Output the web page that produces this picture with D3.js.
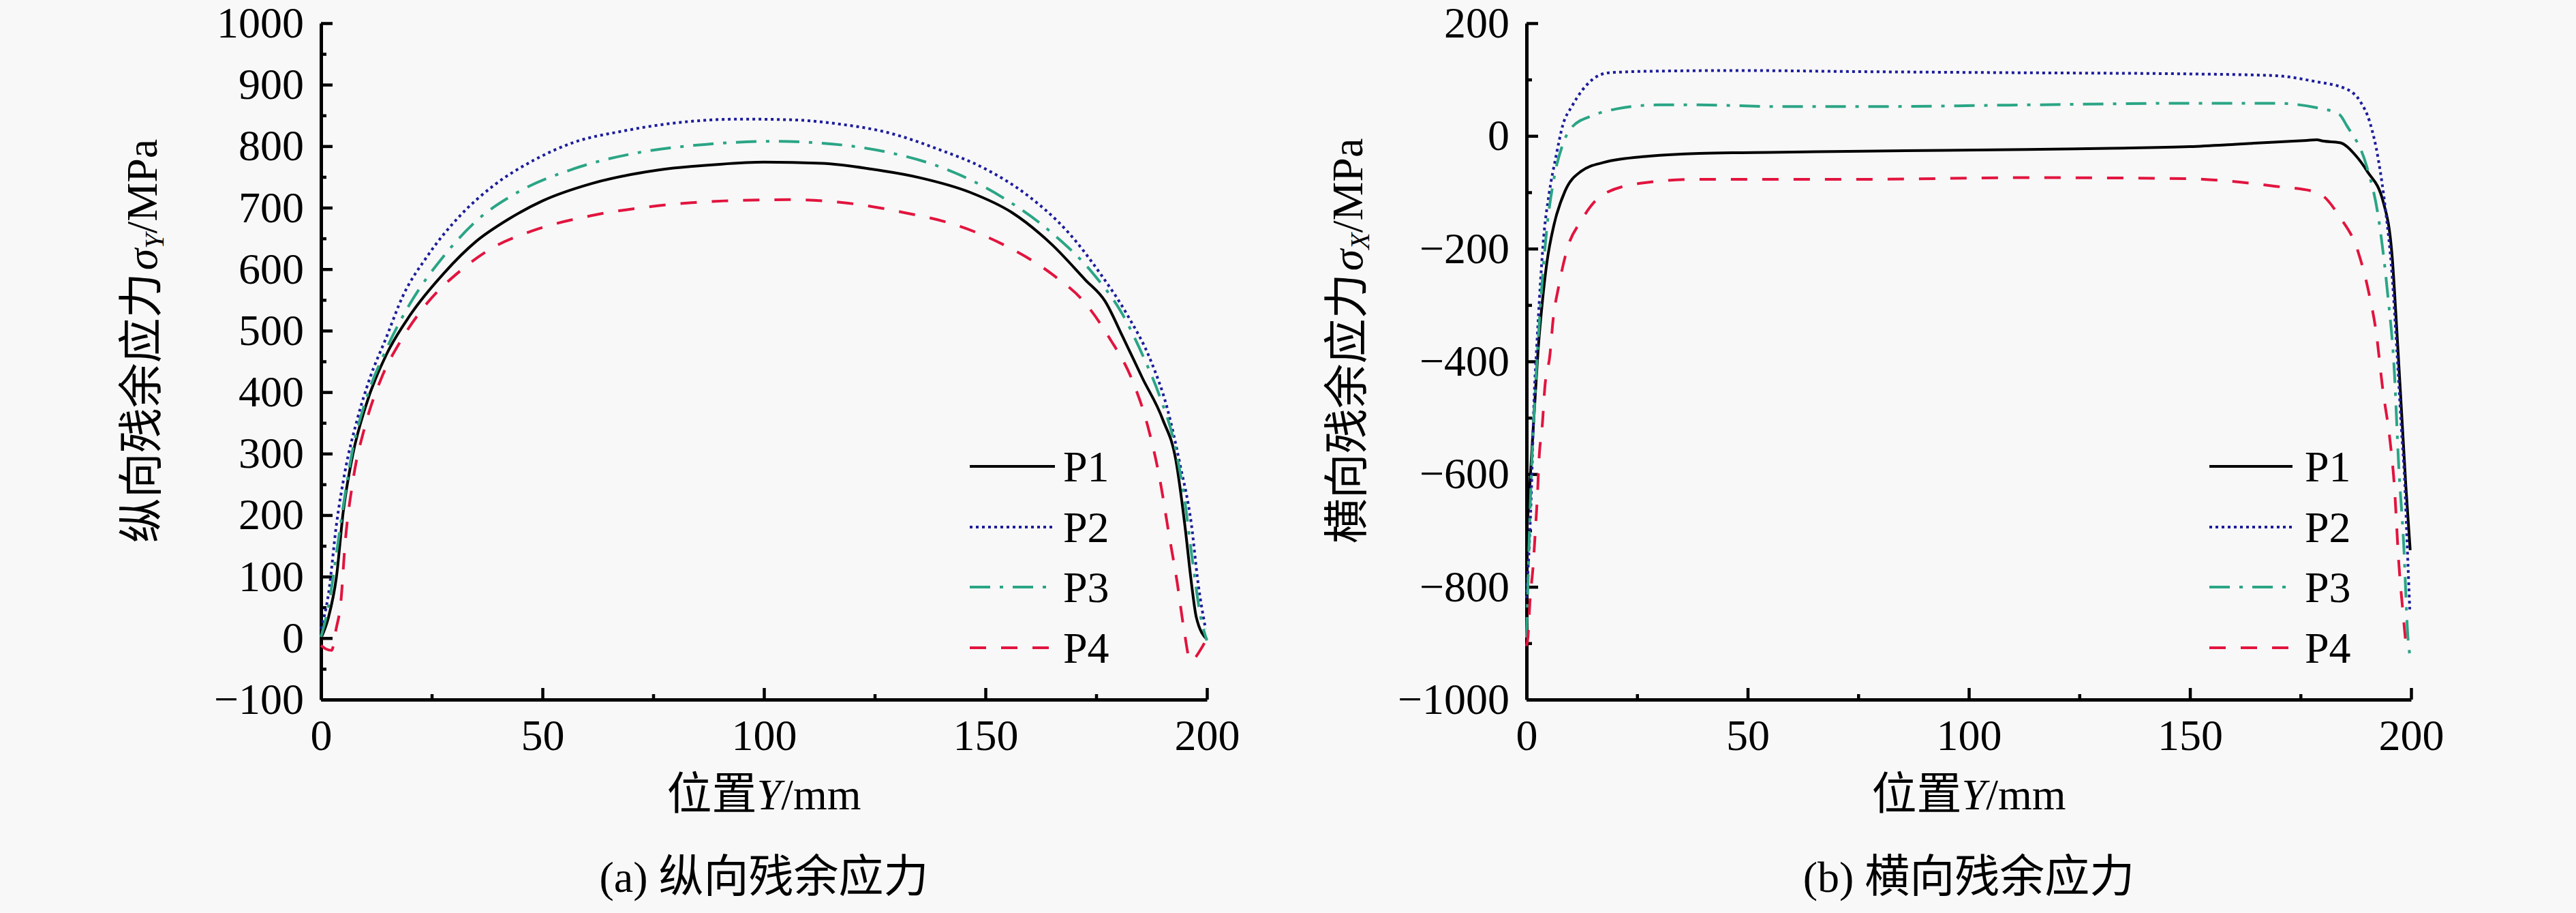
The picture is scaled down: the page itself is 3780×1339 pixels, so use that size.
<!DOCTYPE html>
<html><head><meta charset="utf-8">
<script src="https://cdn.jsdelivr.net/npm/d3@7"></script>
<style>
html,body{margin:0;padding:0;background:#f8f8f8;}
text{font-family:"Liberation Serif","Times New Roman",serif;fill:#000;}
.cjk{font-family:"Noto Sans CJK SC",sans-serif;}
</style></head><body>
<svg id="chart" width="3780" height="1339"></svg>
<script>
// ---------- data ----------
const seriesNames = ["P1", "P2", "P3", "P4"];
const xTicks = [0, 50, 100, 150, 200];
const xMinorTicks = [25, 75, 125, 175];
const yTicksA = [-100, 0, 100, 200, 300, 400, 500, 600, 700, 800, 900, 1000];
const yMinorA = [-50, 50, 150, 250, 350, 450, 550, 650, 750, 850, 950];
const yTicksB = [-1000, -800, -600, -400, -200, 0, 200];
const yMinorB = [-900, -700, -500, -300, -100, 100];

// (a) longitudinal residual stress  [position Y (mm), stress (MPa)]
const longP1 = [[0,0],[1.7,34],[3.5,100],[5,204],[7.2,299],[10,375],[14.7,460],[20.2,526],[27.7,593],[35,645],[42.5,682],[50,711],[61,739],[76,761],[89,770],[100,774],[113,772],[124,763],[135,749],[146.5,725],[156,692],[165,640],[172.5,583],[177,548],[181,490],[185.5,422],[190,356],[193,289],[195,185],[196.5,90],[197.6,34],[200,-2]];
const longP2 = [[0,15],[1.7,72],[3.5,185],[5.4,270],[8.2,356],[11,422],[14.7,488],[18.4,555],[24,621],[31.4,687],[38.8,735],[48,777],[57,806],[68.5,825],[81.5,839],[94.5,844],[105.7,843],[117,836],[128,822],[139,796],[150,763],[159.5,720],[168.8,659],[176,592],[182,526],[187.4,450],[191,375],[194,280],[196.5,185],[198,90],[199.7,15]];
const longP3 = [[0,2],[1.7,52],[3.5,138],[5.4,232],[7.2,308],[10,384],[14.7,469],[20.2,545],[27.7,621],[35,678],[44.4,725],[57,763],[72,790],[87,803],[102,808],[113,805],[128,790],[141,763],[154,716],[165,659],[174.4,592],[181,526],[185.5,460],[189.3,394],[192.6,318],[195,223],[196.7,128],[198.6,34],[200,-4]];
const longP4 = [[0,-12],[1.2,-18],[2.4,-20],[3.4,14],[4.5,60],[5.4,150],[7.2,255],[10,346],[13.6,422],[18.4,488],[24,545],[31.4,597],[38.8,635],[48,663],[61,687],[76,703],[91,711],[105.7,713],[120.5,706],[131.6,692],[142.8,673],[154,640],[165,592],[172.5,545],[178,488],[183,422],[186.6,346],[189.3,261],[191.5,166],[193.3,90],[194.8,15],[196.3,-37],[198.8,-16],[200,0]];

// (b) transverse residual stress
const tranP1 = [[0,-700],[0.5,-653],[1,-585],[1.8,-483],[2.6,-382],[3.6,-293],[4.6,-225],[6.2,-158],[8.7,-98],[12.3,-63],[17.5,-47],[27.7,-36],[39,-31],[57.6,-29],[76,-27],[113,-24],[132,-22],[150,-19],[160,-15],[169,-11],[176.4,-8],[178.7,-7],[180,-9],[183.9,-12],[187.5,-35],[190.1,-63],[193.7,-117],[195.7,-212],[196.8,-348],[197.8,-483],[198.8,-619],[199.8,-735]];
const tranP2 = [[0,-820],[1,-653],[1.8,-450],[2.3,-375],[3.1,-266],[3.9,-178],[5.1,-103],[6.7,-35],[8.2,19],[10.3,53],[12.5,80],[14.9,100],[18.6,112],[29.7,115],[48.3,116],[76,114],[113,112],[150,110],[169,107],[178,97],[185.7,82],[188.6,60],[190.6,26],[192.6,-42],[194.2,-130],[195.7,-246],[196.8,-382],[197.8,-518],[198.6,-619],[199.1,-721],[199.7,-840]];
const tranP3 = [[0,-890],[1,-619],[2,-450],[3.1,-307],[4.6,-164],[6.2,-76],[8.2,-15],[10.2,15],[14.9,36],[20.4,48],[29.7,55],[39,55],[57.6,52],[76,52],[113,55],[150,58],[169,58],[178.7,50],[183.8,38],[185.4,19],[190,-55],[192.6,-144],[194.7,-280],[196.2,-416],[197.2,-585],[198.3,-720],[199.3,-891],[199.8,-925]];
const tranP4 = [[0,-905],[0.3,-891],[0.8,-823],[1.5,-762],[2,-700],[2.5,-632],[2.8,-578],[3.6,-510],[4.1,-450],[5.3,-388],[6,-327],[7.3,-266],[9.3,-198],[12.3,-151],[17.5,-103],[26.7,-83],[39,-77],[76,-77],[113,-74],[150,-76],[160,-81],[169,-89],[178.7,-100],[183.9,-144],[188,-205],[190.5,-280],[192.1,-348],[193.6,-450],[195.2,-538],[196.2,-619],[197.2,-755],[198.3,-857],[198.8,-900]];

// ---------- styles ----------
const colors = ["#000000", "#1c1c9c", "#2aa585", "#e2143e"];
const dashes = [null, "4 5", "30 14 5 14", "24 22"];

const svg = d3.select("#chart");
svg.append("rect").attr("width", 3780).attr("height", 1339).attr("fill", "#f8f8f8");

function panel(opts) {
  const x = d3.scaleLinear().domain([0, 200]).range([opts.x0, opts.x1]);
  const y = d3.scaleLinear().domain(opts.yDomain).range([opts.yBottom, opts.yTop]);
  const g = svg.append("g");

  // minor ticks
  g.append("g").attr("transform", `translate(0,${opts.yBottom})`)
    .call(d3.axisBottom(x).tickValues(xMinorTicks).tickSize(-8).tickSizeOuter(0).tickFormat(""))
    .call(s => s.select(".domain").remove())
    .call(s => s.selectAll("line").attr("stroke-width", 4.5));
  g.append("g").attr("transform", `translate(${opts.x0},0)`)
    .call(d3.axisLeft(y).tickValues(opts.yMinor).tickSize(-8).tickSizeOuter(0).tickFormat(""))
    .call(s => s.select(".domain").remove())
    .call(s => s.selectAll("line").attr("stroke-width", 4.5));

  // major axes
  const fmt = d => d < 0 ? "\u2212" + Math.abs(d) : String(d);
  const ax = g.append("g").attr("transform", `translate(0,${opts.yBottom})`)
    .call(d3.axisBottom(x).tickValues(xTicks).tickSize(-17).tickSizeOuter(0).tickPadding(29).tickFormat(fmt));
  const ay = g.append("g").attr("transform", `translate(${opts.x0},0)`)
    .call(d3.axisLeft(y).tickValues(opts.yTicks).tickSize(-17).tickSizeOuter(0).tickPadding(25).tickFormat(fmt));
  [ax, ay].forEach(a => {
    a.select(".domain").attr("stroke-width", 5).attr("stroke", "#000");
    a.selectAll(".tick line").attr("stroke-width", 4.5).attr("stroke", "#000");
    a.selectAll(".tick text").attr("font-size", 64).attr("font-family", "Liberation Serif, Times New Roman, serif").attr("fill", "#000");
  });

  // curves
  const line = d3.line().x(d => x(d[0])).y(d => y(d[1])).curve(d3.curveMonotoneX);
  opts.series.forEach((s, i) => {
    g.append("path").datum(s).attr("d", line)
      .attr("fill", "none").attr("stroke", colors[i]).attr("stroke-width", 4)
      .attr("stroke-dasharray", dashes[i]);
  });

  // legend
  seriesNames.forEach((n, i) => {
    const ly = opts.legY[i];
    g.append("line").attr("x1", opts.legX0).attr("x2", opts.legX1).attr("y1", ly).attr("y2", ly)
      .attr("stroke", colors[i]).attr("stroke-width", 4).attr("stroke-dasharray", dashes[i]);
    g.append("text").attr("x", opts.legTx).attr("y", ly + 22).attr("font-size", 64).text(n);
  });

  // y label
  const yl = g.append("text").attr("transform", `translate(${opts.yLabelX},${(opts.yTop + opts.yBottom) / 2 - 30}) rotate(-90)`)
    .attr("text-anchor", "middle").attr("dy", "0.36em");
  yl.append("tspan").attr("class", "cjk").attr("font-size", 66).text(opts.yLabelCn);
  yl.append("tspan").attr("font-size", 64).attr("font-style", "italic").attr("dx", 4).text("σ");
  yl.append("tspan").attr("font-size", 40).attr("font-style", "italic").attr("dy", 10).text(opts.sub);
  yl.append("tspan").attr("font-size", 64).attr("dy", -10).text("/MPa");

  // x label
  const cx = (opts.x0 + opts.x1) / 2;
  const xl = g.append("text").attr("x", cx).attr("y", 1181).attr("dy", "0.36em").attr("text-anchor", "middle");
  xl.append("tspan").attr("class", "cjk").attr("font-size", 66).text("位置");
  xl.append("tspan").attr("font-size", 64).attr("font-style", "italic").text("Y");
  xl.append("tspan").attr("font-size", 64).text("/mm");

  // caption
  const cap = g.append("text").attr("x", cx).attr("y", 1302).attr("dy", "0.36em").attr("text-anchor", "middle");
  cap.append("tspan").attr("font-size", 64).text(opts.capPrefix + " ");
  cap.append("tspan").attr("class", "cjk").attr("font-size", 66).text(opts.capCn);
}

panel({
  x0: 471, x1: 1771, yTop: 34, yBottom: 1026, yDomain: [-100, 1000],
  yTicks: yTicksA, yMinor: yMinorA,
  series: [longP1, longP2, longP3, longP4],
  legX0: 1423, legX1: 1548, legTx: 1560, legY: [684, 773, 861, 950],
  yLabelX: 224, yLabelCn: "纵向残余应力", sub: "Y",
  capPrefix: "(a)", capCn: "纵向残余应力"
});
panel({
  x0: 2240, x1: 3538, yTop: 34, yBottom: 1026, yDomain: [-1000, 200],
  yTicks: yTicksB, yMinor: yMinorB,
  series: [tranP1, tranP2, tranP3, tranP4],
  legX0: 3242, legX1: 3364, legTx: 3382, legY: [684, 773, 861, 950],
  yLabelX: 1993, yLabelCn: "横向残余应力", sub: "X",
  capPrefix: "(b)", capCn: "横向残余应力"
});
</script>
</body></html>
